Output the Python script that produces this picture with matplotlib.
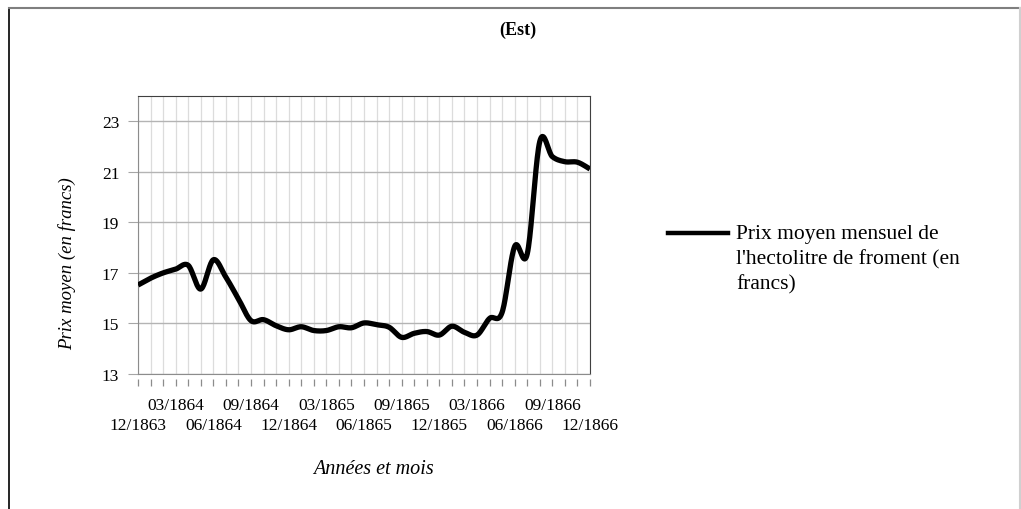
import numpy as np
import matplotlib
matplotlib.use("Agg")
import matplotlib.pyplot as plt
from matplotlib.lines import Line2D
from matplotlib.transforms import blended_transform_factory

plt.rcParams['font.family'] = ['Liberation Serif', 'DejaVu Serif']

# Mois de 12/1863 a 12/1866
mois = ["12/1863"] + ["%02d/%d" % (m, a) for a in (1864, 1865, 1866) for m in range(1, 13)]

# Prix moyen mensuel de l'hectolitre de froment (francs), region Est
prix = [16.52, 16.79, 17.00, 17.15, 17.30, 16.36, 17.52, 16.83, 15.97, 15.11,
        15.15, 14.91, 14.75, 14.87, 14.72, 14.72, 14.87, 14.83, 15.02, 14.95,
        14.85, 14.45, 14.61, 14.68, 14.54, 14.89, 14.65, 14.54, 15.20, 15.44,
        18.05, 17.75, 22.20, 21.60, 21.40, 21.38, 21.11]

y_ticks = [13, 15, 17, 19, 21, 23]
serie = "Prix moyen mensuel de\nl'hectolitre de froment (en\nfrancs)"


def courbe_lissee(x, y, n=20):
    # lissage type Excel : Bezier cubique avec tangentes de Catmull-Rom
    x = np.asarray(x, float)
    y = np.asarray(y, float)
    px, py = [], []
    for i in range(len(x) - 1):
        x0, y0 = (x[i - 1], y[i - 1]) if i > 0 else (x[i], y[i])
        x3, y3 = (x[i + 2], y[i + 2]) if i + 2 < len(x) else (x[i + 1], y[i + 1])
        c1x = x[i] + (x[i + 1] - x0) / 6
        c1y = y[i] + (y[i + 1] - y0) / 6
        c2x = x[i + 1] - (x3 - x[i]) / 6
        c2y = y[i + 1] - (y3 - y[i]) / 6
        t = np.linspace(0, 1, n, endpoint=False)
        b0, b1, b2, b3 = (1 - t) ** 3, 3 * t * (1 - t) ** 2, 3 * t ** 2 * (1 - t), t ** 3
        px.extend(b0 * x[i] + b1 * c1x + b2 * c2x + b3 * x[i + 1])
        py.extend(b0 * y[i] + b1 * c1y + b2 * c2y + b3 * y[i + 1])
    px.append(x[-1])
    py.append(y[-1])
    return np.array(px), np.array(py)


W, H = 1021, 510
fig = plt.figure(figsize=(W / 100, H / 100), dpi=100)
ax = fig.add_axes([138 / W, 1 - 375 / H, 452 / W, 278 / H])

idx = np.arange(len(mois))
sx, sy = courbe_lissee(idx, prix)
ax.plot(sx, sy, color="black", lw=3.8, solid_capstyle="butt", zorder=3)

ax.set_xlim(0, len(mois) - 1)
ax.set_ylim(13, 24)

# grille verticale a chaque mois, etiquettes un trimestre sur deux en decale
ax.set_xticks(idx)
ax.set_xticklabels([])
ax.tick_params(axis="x", length=0)
ax.grid(axis="x", color="#dcdcdc", lw=0.9)

trans = blended_transform_factory(ax.transData, ax.transAxes)
for k, i in enumerate(idx[::3]):
    ligne = -0.111 if k % 2 else -0.183
    ax.text(i, ligne, mois[i], transform=trans, ha="center", va="center", fontsize=12.5)

ax.set_yticks(y_ticks)
ax.tick_params(axis="y", length=7.5, color="#a6a6a6", labelsize=12.5, pad=6)
ax.grid(axis="y", color="#b4b4b4", lw=1.0)
ax.set_axisbelow(True)

for s in ("left", "bottom"):
    ax.spines[s].set_color("#8c8c8c")
for s in ("top", "right"):
    ax.spines[s].set_color("#404040")

# petites graduations detachees sous l'axe
ax.vlines(idx, -0.017, -0.043, transform=trans, color="#8c8c8c", lw=0.9, clip_on=False)

ax.set_ylabel("Prix moyen (en francs)", fontsize=13.5, style="italic")
ax.yaxis.set_label_coords(-0.137, 0.40)
ax.set_xlabel("Années et mois", fontsize=14.5, style="italic")
ax.xaxis.set_label_coords(0.52, -0.306)
fig.text(518 / W, 1 - 30 / H, "(Est)", ha="center", va="center",
         fontsize=13, fontweight="bold")

# legende
fig.add_artist(Line2D([668 / W, 728 / W], [1 - 234 / H, 1 - 234 / H], color="black", lw=3.2))
fig.text(736 / W, 1 - 225 / H, serie, ha="left", va="top", fontsize=15.5, linespacing=1.42)

# cadre du graphique
fig.add_artist(Line2D([8.5 / W, 8.5 / W], [0, 1 - 8.5 / H], color="black", lw=1.2))
fig.add_artist(Line2D([8.5 / W, 1], [1 - 8.5 / H, 1 - 8.5 / H], color="#7f7f7f", lw=1.5))
fig.add_artist(Line2D([1019.5 / W, 1019.5 / W], [0, 1 - 8.5 / H], color="#d0d0d0", lw=1.5))

fig.savefig("out.png", dpi=100)
